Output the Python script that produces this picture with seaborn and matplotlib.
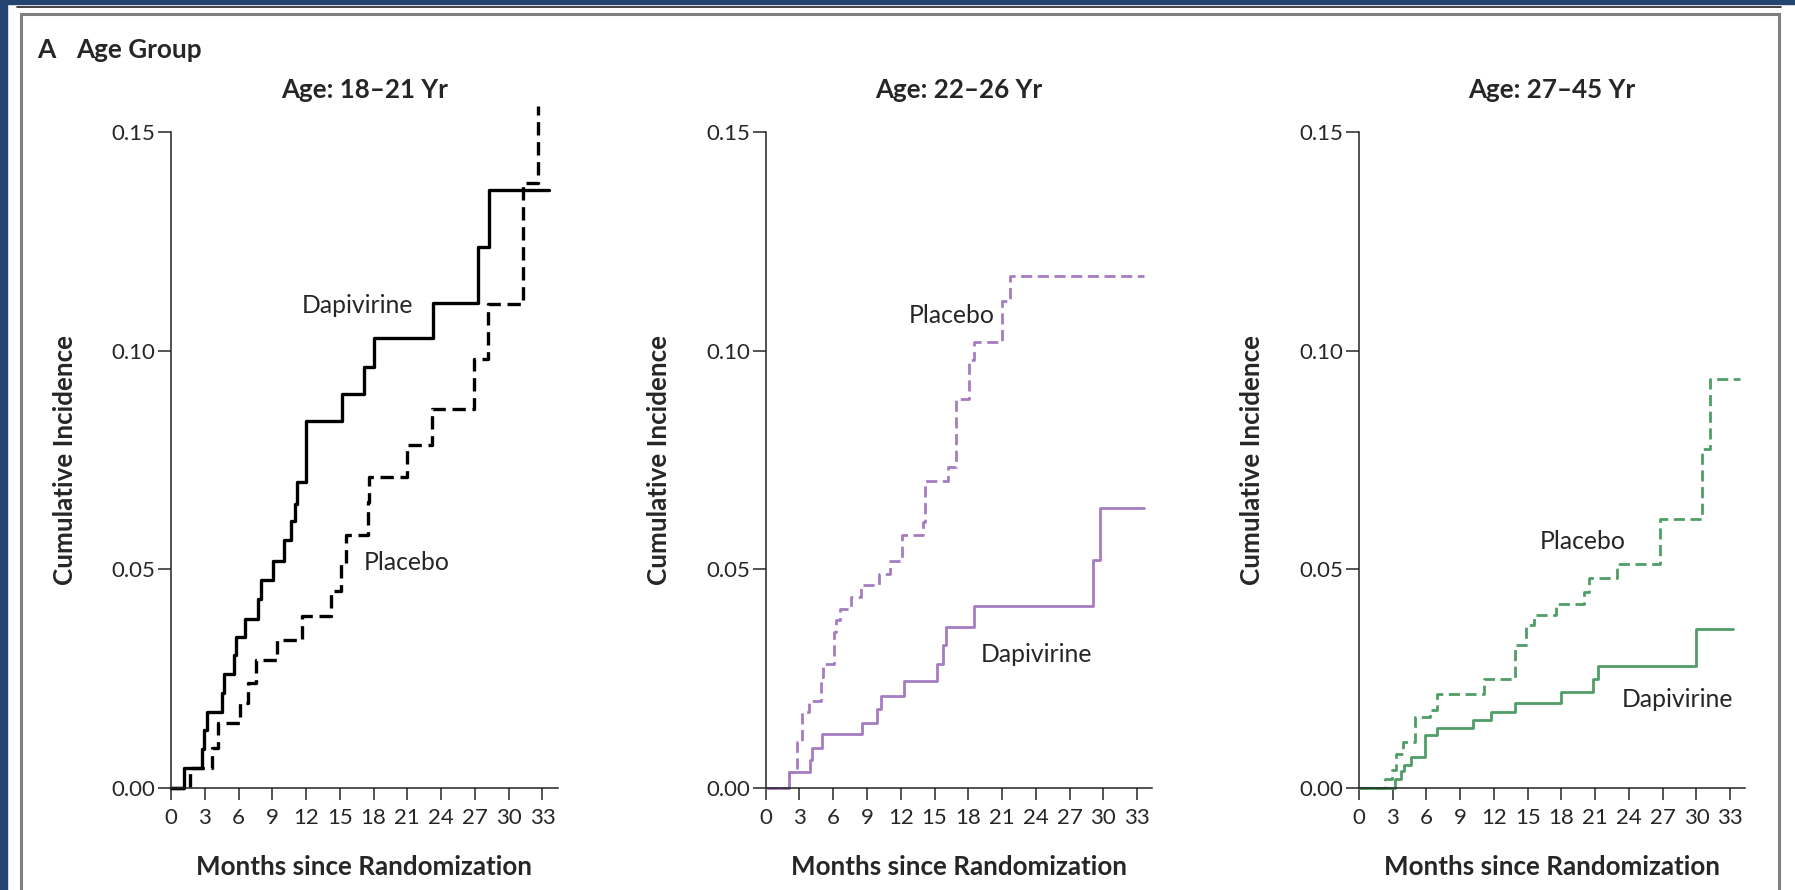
import matplotlib
matplotlib.use('Agg')
import matplotlib.pyplot as plt
import seaborn as sns
import pandas as pd
from matplotlib.patches import Rectangle
from matplotlib.lines import Line2D

# ====== DATA
months_ticks = [0, 3, 6, 9, 12, 15, 18, 21, 24, 27, 30, 33]
y_ticks = [0.00, 0.05, 0.10, 0.15]
panel_titles = ['Age: 18\u201321 Yr', 'Age: 22\u201326 Yr', 'Age: 27\u201345 Yr']
panel_colors = ['black', '#a57cc1', '#4f9e66']

# 18-21 yr
dapi_18_t = [0, 1.12, 2.72, 2.93, 3.16, 4.53, 4.70, 5.61, 5.78, 6.57, 7.76, 8.0, 9.02,
             10.07, 10.65, 10.99, 11.16, 12.01, 15.18, 17.11, 18.07, 23.24, 27.32, 28.27, 33.6]
dapi_18_v = [0, 0.0046, 0.0088, 0.0132, 0.0174, 0.0216, 0.0261, 0.0303, 0.0345, 0.0387, 0.0431,
             0.0475, 0.0519, 0.0566, 0.061, 0.065, 0.070, 0.0839, 0.0902, 0.0962, 0.103, 0.111,
             0.1237, 0.1368, 0.1368]
plac_18_t = [0, 1.70, 3.6, 4.19, 6.16, 6.84, 7.59, 9.46, 11.67, 14.22, 15.07, 15.58, 17.46,
             17.62, 20.96, 23.17, 26.91, 28.17, 31.24, 32.6]
plac_18_v = [0, 0.0046, 0.009, 0.0147, 0.0193, 0.0239, 0.0292, 0.0339, 0.0392, 0.045, 0.0513,
             0.0578, 0.0654, 0.071, 0.0785, 0.0867, 0.0982, 0.1107, 0.1383, 0.156]

# 22-26 yr
dapi_22_t = [0, 2.04, 3.91, 4.15, 5.0, 8.57, 9.87, 10.28, 12.25, 15.21, 15.79, 16.06, 18.54,
             29.06, 29.67, 33.58]
dapi_22_v = [0, 0.0035, 0.0063, 0.009, 0.0123, 0.0149, 0.0179, 0.021, 0.0245, 0.0284, 0.0326,
             0.0368, 0.0415, 0.0522, 0.0639, 0.0639]
plac_22_t = [0, 2.04, 2.79, 3.23, 3.81, 4.93, 5.10, 6.09, 6.29, 6.63, 7.55, 8.51, 10.04, 11.06,
             12.15, 14.02, 14.19, 16.23, 16.9, 18.1, 18.54, 20.99, 21.67, 33.58]
plac_22_v = [0, 0.0035, 0.0105, 0.0174, 0.0198, 0.0254, 0.0284, 0.0357, 0.0383, 0.041, 0.0437,
             0.0463, 0.049, 0.0519, 0.0578, 0.0608, 0.0703, 0.0734, 0.089, 0.0978, 0.102, 0.1115,
             0.117, 0.117]

# 27-45 yr
dapi_27_t = [0, 3.18, 3.79, 4.06, 4.64, 5.92, 6.94, 10.15, 11.74, 13.87, 17.94, 20.81, 21.22,
             29.95, 33.23]
dapi_27_v = [0, 0.002, 0.0039, 0.0053, 0.0071, 0.012, 0.0137, 0.0155, 0.0174, 0.0193, 0.0218,
             0.0248, 0.0279, 0.0363, 0.0363]
plac_27_t = [0, 2.34, 2.94, 3.28, 3.96, 4.97, 6.33, 6.94, 11.13, 13.87, 14.86, 15.53, 17.5, 20.03,
             20.47, 22.98, 26.8, 30.46, 31.2, 33.9]
plac_27_v = [0, 0.0021, 0.004, 0.0076, 0.0105, 0.0162, 0.0178, 0.0214, 0.0248, 0.0326, 0.0372,
             0.0395, 0.042, 0.0448, 0.0479, 0.0511, 0.0616, 0.0776, 0.0936, 0.0936]

# label positions (month, incidence) for the curve names
dapi_label_xy = [(11.65, 0.1087), (19.1, 0.0288), (23.4, 0.0185)]
plac_label_xy = [(17.1, 0.0498), (12.75, 0.1063), (16.05, 0.0547)]

curves = [
    (dapi_18_t, dapi_18_v, plac_18_t, plac_18_v),
    (dapi_22_t, dapi_22_v, plac_22_t, plac_22_v),
    (dapi_27_t, dapi_27_v, plac_27_t, plac_27_v),
]

# ====== STYLE
sns.set_style('ticks')
plt.rcParams['font.family'] = ['Lato', 'DejaVu Sans']
plt.rcParams['axes.linewidth'] = 1.1
plt.rcParams['xtick.major.width'] = 1.1
plt.rcParams['ytick.major.width'] = 1.1

fig = plt.figure(figsize=(17.95, 8.9), dpi=100)
W, H = 1795, 890

# page decoration: blue border, rule, grey frame
fig.patches.append(Rectangle((0, 0), 6.7 / W, 1, transform=fig.transFigure,
                             color='#234371', zorder=0))
fig.patches.append(Rectangle((0, 1 - 4 / H), 1, 4 / H, transform=fig.transFigure,
                             color='#234371', zorder=0))
fig.lines.append(Line2D([17 / W, 1781 / W], [1 - 6.5 / H, 1 - 6.5 / H], transform=fig.transFigure,
                        color='#222222', lw=1.2))
fig.patches.append(Rectangle((20.5 / W, -0.05), (1779 - 20.5) / W, 1.05 - 14.5 / H,
                             transform=fig.transFigure, fill=False, edgecolor='#7f7f7f',
                             lw=2.2, zorder=0))

fig.text(37 / W, 1 - 58 / H, 'A', fontsize=19, fontweight='bold', va='baseline')
fig.text(76 / W, 1 - 58 / H, 'Age Group', fontsize=18.8, fontweight='bold', va='baseline')

ax_left = [171 / W, 765.7 / W, 1358.8 / W]
ax_w = 386.6 / W
ax_b = (H - 787.7) / H
ax_h = (787.7 - 132.3) / H

for i in range(3):
    ax = fig.add_axes([ax_left[i], ax_b, ax_w, ax_h])
    dt, dv, pt, pv = curves[i]
    col = panel_colors[i]
    lw = 2.4 if i == 0 else 2.0
    df_d = pd.DataFrame({'month': dt, 'inc': dv})
    df_p = pd.DataFrame({'month': pt, 'inc': pv})
    sns.lineplot(data=df_p, x='month', y='inc', ax=ax, color=col, lw=lw, estimator=None,
                 sort=False, drawstyle='steps-post', linestyle=(0, (4.0, 2.0)), clip_on=False)
    sns.lineplot(data=df_d, x='month', y='inc', ax=ax, color=col, lw=lw, estimator=None,
                 sort=False, drawstyle='steps-post', clip_on=False)

    ax.set_xlim(0, 34.35)
    ax.set_ylim(0, 0.15)
    ax.set_xticks(months_ticks)
    ax.set_yticks(y_ticks)
    ax.set_yticklabels([f'{v:.2f}' for v in y_ticks])
    ax.tick_params(axis='x', length=8.8, pad=6.0, labelsize=16)
    ax.tick_params(axis='y', length=9.5, pad=1.5, labelsize=16)
    sns.despine(ax=ax)
    ax.spines['left'].set_color('#222222')
    ax.spines['bottom'].set_color('#222222')

    ax.set_xlabel('Months since Randomization', fontsize=18.7, fontweight='bold')
    ax.set_ylabel('Cumulative Incidence', fontsize=18.7, fontweight='bold')
    ax.xaxis.set_label_coords(0.5, -0.103)
    ax.yaxis.set_label_coords(-0.244, 0.5)
    ax.set_title(panel_titles[i], fontsize=18.7, fontweight='bold', y=1.0523, pad=0)

    ax.text(dapi_label_xy[i][0], dapi_label_xy[i][1], 'Dapivirine', fontsize=17.8, va='baseline')
    ax.text(plac_label_xy[i][0], plac_label_xy[i][1], 'Placebo', fontsize=17.8, va='baseline')

fig.savefig('out.png', dpi=100)
